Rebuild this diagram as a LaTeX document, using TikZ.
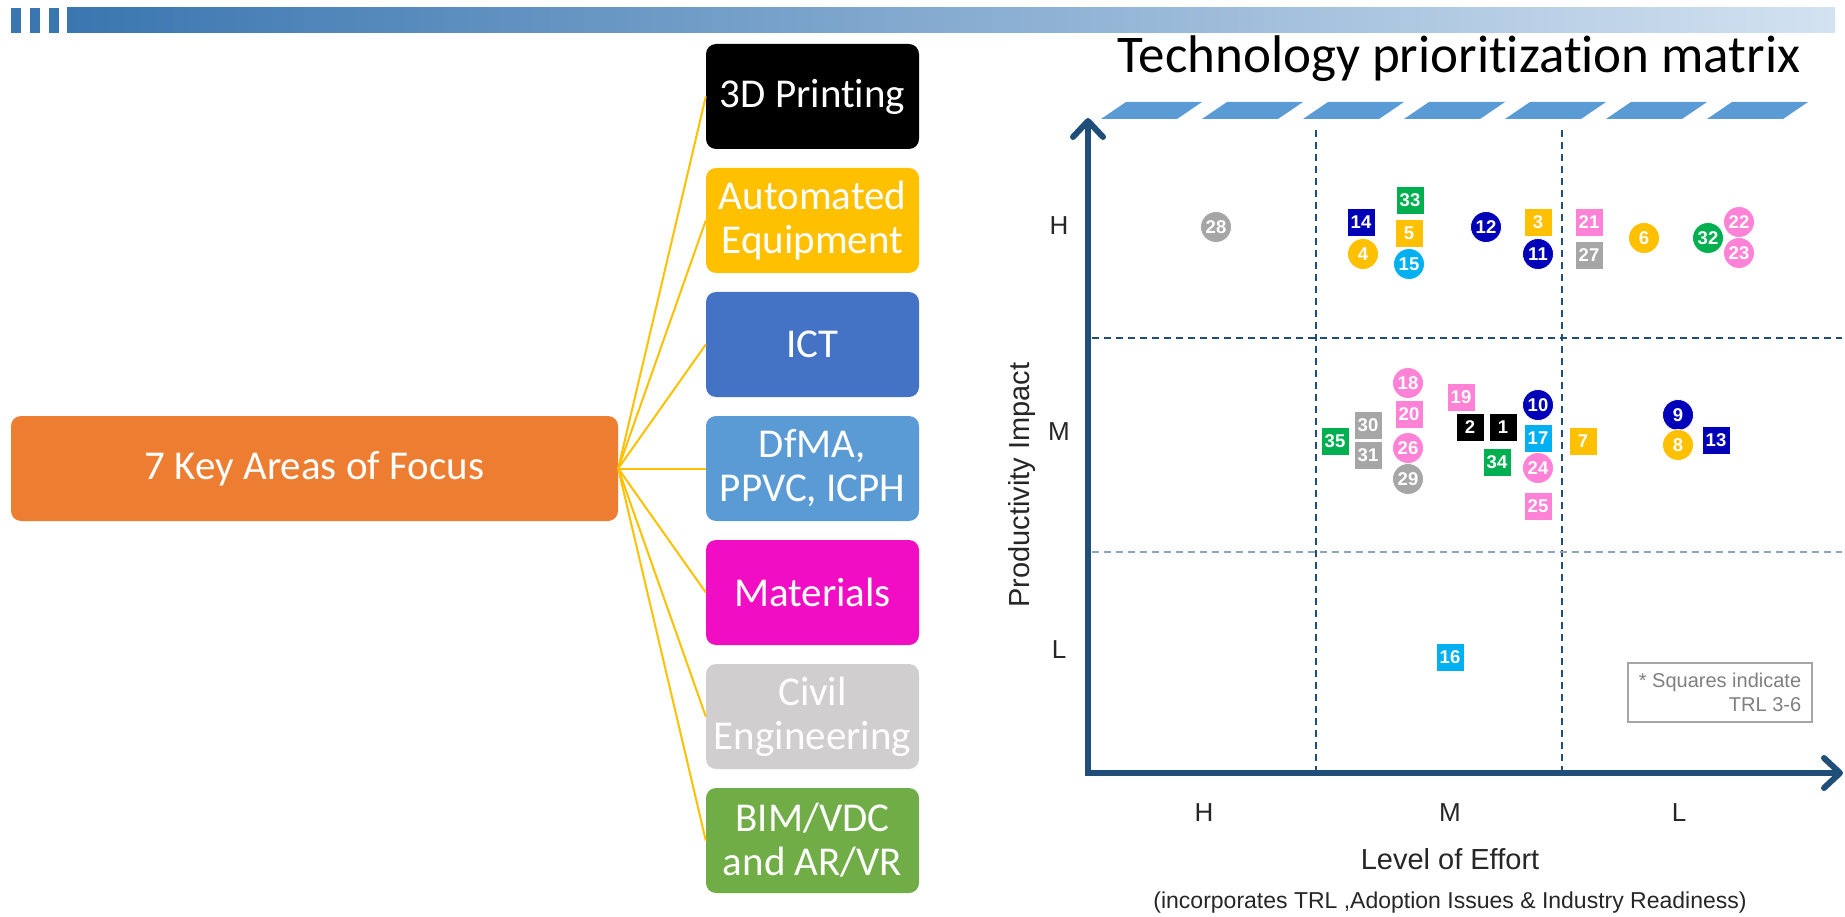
\documentclass[tikz,border=0pt]{standalone}
\usepackage{fontspec}
\setmainfont[Ligatures=NoCommon]{Carlito}
\newfontfamily\arialf{Liberation Sans}
\usetikzlibrary{arrows.meta}
\definecolor{barc}{HTML}{3A76B0}
\definecolor{barr}{HTML}{D3E2F1}
\definecolor{orangec}{HTML}{ED7D31}
\definecolor{yellowc}{HTML}{FFC000}
\definecolor{ictc}{HTML}{4472C4}
\definecolor{dfmac}{HTML}{5B9BD5}
\definecolor{matc}{HTML}{F10DC4}
\definecolor{civc}{HTML}{D0CECE}
\definecolor{bimc}{HTML}{70AD47}
\definecolor{axisc}{HTML}{1F4E79}
\definecolor{mblue}{HTML}{0000B8}
\definecolor{mgreen}{HTML}{00B050}
\definecolor{mcyan}{HTML}{00B0F0}
\definecolor{mpink}{HTML}{FF82D6}
\definecolor{mgray}{HTML}{A6A6A6}
\definecolor{legc}{HTML}{7F7F7F}
\tikzset{
  area/.style={rectangle, rounded corners=10pt, minimum width=213pt, minimum height=105pt,
    inner sep=0pt, text=white, align=center, font=\fontsize{41}{44}\selectfont},
  link/.style={draw=yellowc, line width=2pt},
  sq/.style={rectangle, minimum size=28pt, inner sep=0pt, text=white, draw=white, line width=0.8pt,
    font=\arialf\bfseries\fontsize{18.5}{18.5}\selectfont},
  ci/.style={circle, minimum size=31pt, inner sep=0pt, text=white, draw=white, line width=0.8pt,
    font=\arialf\bfseries\fontsize{18.5}{18.5}\selectfont},
  axisline/.style={draw=axisc, line width=6pt, -{Straight Barb[length=16pt,width=30pt,round]}},
  gridline/.style={draw=axisc, line width=1.6pt, dash pattern=on 7pt off 5pt},
  lvl/.style={font=\arialf\fontsize{26}{26}\selectfont, text=black!85},
  axtitle/.style={font=\arialf\fontsize{29}{29}\selectfont, text=black!85},
}
\begin{document}
\begin{tikzpicture}[x=1pt,y=-1pt]
\useasboundingbox (0,0) rectangle (1845,917);
% top bar
\fill[barc] (11,8) rectangle (21,33);
\fill[barc] (30,8) rectangle (40,33);
\fill[barc] (49,8) rectangle (59,33);
\shade[left color=barc, right color=barr] (67,8) rectangle (1835,33);
% left tree
\node[area, fill=orangec, minimum width=607pt] (focus) at (314.5,468.5) {7 Key Areas of Focus};
\node[area, fill=black] (b1) at (812.5,96.5) {3D Printing};
\node[area, fill=yellowc] (b2) at (812.5,220.5) {Automated\\Equipment};
\node[area, fill=ictc] (b3) at (812.5,344.5) {ICT};
\node[area, fill=dfmac] (b4) at (812.5,468.5) {DfMA,\\PPVC, ICPH};
\node[area, fill=matc] (b5) at (812.5,592.5) {Materials};
\node[area, fill=civc] (b6) at (812.5,716.5) {Civil\\Engineering};
\node[area, fill=bimc] (b7) at (812.5,840.5) {BIM/VDC\\and AR/VR};
\foreach \k in {1,...,7} \draw[link] (focus.east) -- (b\k.west);
% title
\node[anchor=base, font=\fontsize{53}{53}\selectfont, inner sep=0pt] (title) at (1459,73) {Technology prioritization matrix};
% parallelograms
\foreach \i in {0,...,6}
  \fill[dfmac] ({1101+101*\i},119) -- ({1126+101*\i},102) -- ({1202+101*\i},102) -- ({1177+101*\i},119) -- cycle;
% grid
\draw[gridline] (1316,130) -- (1316,770);
\draw[gridline] (1562,130) -- (1562,770);
\draw[gridline] (1092,338) -- (1842,338);
\draw[gridline, draw=axisc!50] (1092,552) -- (1842,552);
% axes
\coordinate (origin) at (1088,776);
\coordinate (ytip) at (1088,118);
\coordinate (xtip) at (1843,773);
\draw[axisline] (origin) -- (ytip);
\draw[axisline] (1085,773) -- (xtip);
% axis labels
\node[lvl] (yh) at (1059,226) {H};
\node[lvl] (ym) at (1059,432) {M};
\node[lvl] (yl) at (1059,650) {L};
\node[lvl] (xh) at (1204,813) {H};
\node[lvl] (xm) at (1450,813) {M};
\node[lvl] (xl) at (1679,813) {L};
\node[axtitle, rotate=90] (ytitle) at (1022,485) {Productivity Impact};
\node[axtitle] (xtitle) at (1450,859) {Level of Effort};
\node[font=\arialf\fontsize{23}{23}\selectfont, text=black!85] (xnote) at (1450,903) {(incorporates TRL ,Adoption Issues \& Industry Readiness)};
% legend
\node[draw=mgray, line width=1.2pt, minimum width=184pt, minimum height=59pt, inner sep=0pt, align=right,
  text=legc, font=\arialf\fontsize{20}{24}\selectfont] (legend) at (1720,692.5) {* Squares indicate\\TRL 3-6};
% markers
\foreach \n/\s/\c/\x/\y in {
  28/ci/mgray/1216/227, 14/sq/mblue/1361/222, 33/sq/mgreen/1410/200, 5/sq/yellowc/1409/233,
  4/ci/yellowc/1363/254, 15/ci/mcyan/1409/264, 12/ci/mblue/1486/227, 3/sq/yellowc/1538/222,
  11/ci/mblue/1538/254, 21/sq/mpink/1589/222, 27/sq/mgray/1589/255, 6/ci/yellowc/1644/238,
  32/ci/mgreen/1708/238, 22/ci/mpink/1739/222, 23/ci/mpink/1739/253,
  18/ci/mpink/1408/383, 20/sq/mpink/1409/414, 30/sq/mgray/1368/425, 35/sq/mgreen/1335/441,
  31/sq/mgray/1368/455, 26/ci/mpink/1408/448, 29/ci/mgray/1408/479, 19/sq/mpink/1461/397,
  2/sq/black/1470/427, 1/sq/black/1503/427, 34/sq/mgreen/1497/462, 10/ci/mblue/1538/405,
  17/sq/mcyan/1538/438, 24/ci/mpink/1538/468, 25/sq/mpink/1538/506, 7/sq/yellowc/1583/441,
  9/ci/mblue/1678/415, 8/ci/yellowc/1678/445, 13/sq/mblue/1716/440, 16/sq/mcyan/1450/657}
  \node[\s, fill=\c] (m\n) at (\x,\y) {\n};
\end{tikzpicture}
\end{document}
